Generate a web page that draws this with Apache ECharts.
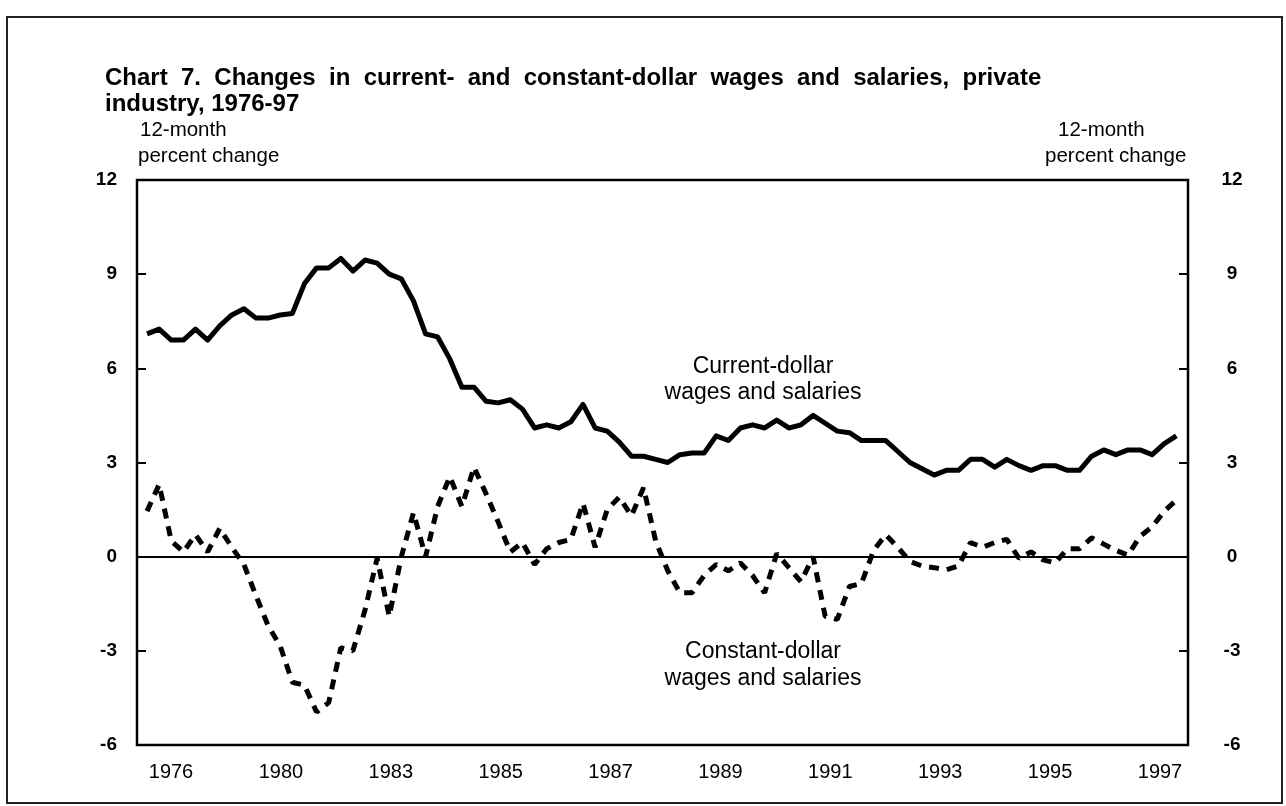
<!DOCTYPE html>
<html>
<head>
<meta charset="utf-8">
<script src="https://cdn.jsdelivr.net/npm/echarts@6/dist/echarts.min.js"></script>
<style>
  html, body { margin: 0; padding: 0; background: #fff; }
  #chart { width: 1286px; height: 806px; }
</style>
</head>
<body>
<div id="chart"></div>
<script>
// quarterly 12-month percent changes
const currentDollar = [
  7.1, 7.25, 6.9, 6.9, 7.25, 6.9, 7.35, 7.7, 7.9, 7.6, 7.6, 7.7, 7.75, 8.7, 9.2, 9.2,
  9.5, 9.1, 9.45, 9.35, 9.0, 8.85, 8.15, 7.1, 7.0, 6.3, 5.4, 5.4, 4.95, 4.9, 5.0, 4.7,
  4.1, 4.2, 4.1, 4.3, 4.85, 4.1, 4.0, 3.65, 3.2, 3.2, 3.1, 3.0, 3.25, 3.3, 3.3, 3.85,
  3.7, 4.1, 4.2, 4.1, 4.35, 4.1, 4.2, 4.5, 4.25, 4.0, 3.95, 3.7, 3.7, 3.7, 3.35, 3.0,
  2.8, 2.6, 2.75, 2.75, 3.1, 3.1, 2.85, 3.1, 2.9, 2.75, 2.9, 2.9, 2.75, 2.75, 3.2, 3.4,
  3.25, 3.4, 3.4, 3.25, 3.6, 3.85
];
const constantDollar = [
  1.45, 2.3, 0.5, 0.15, 0.7, 0.15, 0.9, 0.3, -0.25, -1.25, -2.2, -2.85, -4.0, -4.1, -4.95, -4.65,
  -2.9, -3.0, -1.7, -0.05, -1.9, 0.0, 1.4, 0.0, 1.6, 2.55, 1.6, 2.85, 2.0, 1.1, 0.15, 0.45,
  -0.25, 0.25, 0.45, 0.55, 1.7, 0.3, 1.5, 1.9, 1.3, 2.2, 0.5, -0.45, -1.15, -1.15, -0.6, -0.25,
  -0.45, -0.2, -0.6, -1.15, 0.1, -0.35, -0.8, 0.0, -1.9, -2.0, -0.95, -0.85, 0.2, 0.7, 0.3, -0.15,
  -0.3, -0.35, -0.42, -0.3, 0.45, 0.3, 0.45, 0.55, -0.05, 0.15, -0.1, -0.2, 0.25, 0.25, 0.6, 0.4,
  0.2, 0.05, 0.65, 0.95, 1.45, 1.8
];
const yearLabels = ['1976', '1980', '1983', '1985', '1987', '1989', '1991', '1993', '1995', '1997'];

const chart = echarts.init(document.getElementById('chart'), null, { renderer: 'canvas' });

const FONT = 'Liberation Sans, Arial, sans-serif';

// first title line runs a bit wider in the original
const titleWords = ['Chart', '7.', 'Changes', 'in', 'current-', 'and', 'constant-dollar', 'wages', 'and', 'salaries,', 'private'];
const titleText = titleWords.join('  ') + '\nindustry, 1976-97';

var option = {
  animation: false,
  backgroundColor: '#fff',
  textStyle: { fontFamily: FONT, color: '#000' },
  grid: [
    // plot area, its border is the frame
    { left: 137, right: 98, top: 180, bottom: 61, show: true, borderColor: '#000', borderWidth: 2.5 },
    // only carries the year labels
    { left: 171, right: 126, top: 180, bottom: 61, show: false }
  ],
  xAxis: [
    {
      type: 'value',
      gridIndex: 0,
      min: -0.83,
      max: 85.96,
      axisLine: { show: true, onZero: true, lineStyle: { color: '#000', width: 2 } },
      axisTick: { show: false },
      axisLabel: { show: false },
      splitLine: { show: false }
    },
    {
      type: 'category',
      gridIndex: 1,
      data: yearLabels,
      boundaryGap: false,
      axisLine: { show: false },
      axisTick: { show: false },
      axisLabel: { fontSize: 20, color: '#000', margin: 17, fontFamily: FONT },
      splitLine: { show: false }
    }
  ],
  yAxis: [
    {
      type: 'value',
      gridIndex: 0,
      position: 'left',
      min: -6,
      max: 12,
      interval: 3,
      axisLine: { show: false, onZero: false },
      axisTick: { show: true, inside: true, length: 9, lineStyle: { color: '#000', width: 2 } },
      axisLabel: { fontSize: 19, fontWeight: 'bold', color: '#000', margin: 20, fontFamily: FONT },
      splitLine: { show: false }
    },
    {
      type: 'value',
      gridIndex: 0,
      position: 'right',
      min: -6,
      max: 12,
      interval: 3,
      axisLine: { show: false, onZero: false },
      axisTick: { show: true, inside: true, length: 9, lineStyle: { color: '#000', width: 2 } },
      axisLabel: { fontSize: 19, fontWeight: 'bold', color: '#000', margin: 44, align: 'center', fontFamily: FONT },
      splitLine: { show: false }
    },
    { type: 'value', gridIndex: 1, show: false }
  ],
  series: [
    {
      name: 'Current-dollar wages and salaries',
      type: 'line',
      xAxisIndex: 0,
      yAxisIndex: 0,
      symbol: 'none',
      lineStyle: { color: '#000', width: 5, join: 'round' },
      data: currentDollar.map((v, i) => [i, v])
    },
    {
      name: 'Constant-dollar wages and salaries',
      type: 'line',
      xAxisIndex: 0,
      yAxisIndex: 0,
      symbol: 'none',
      lineStyle: { color: '#000', width: 5, type: [10, 8], cap: 'butt' },
      data: constantDollar.map((v, i) => [i, v])
    }
  ],
  graphic: [
    // outer frame
    { type: 'rect', shape: { x: 7, y: 17, width: 1275, height: 786 }, style: { fill: 'none', stroke: '#222', lineWidth: 2 }, silent: true },
    {
      type: 'text', left: 105, top: 65,
      style: { text: titleText, font: 'bold 24px ' + FONT, lineHeight: 26, fill: '#000' }
    },
    { type: 'text', left: 140, top: 120, style: { text: '12-month', font: '20.5px ' + FONT, fill: '#000' } },
    { type: 'text', left: 138, top: 146, style: { text: 'percent change', font: '20.5px ' + FONT, fill: '#000' } },
    { type: 'text', left: 1058, top: 120, style: { text: '12-month', font: '20.5px ' + FONT, fill: '#000' } },
    { type: 'text', left: 1045, top: 146, style: { text: 'percent change', font: '20.5px ' + FONT, fill: '#000' } },
    {
      type: 'text', x: 763, y: 354,
      style: { text: 'Current-dollar\nwages and salaries', font: '23px ' + FONT, lineHeight: 26, align: 'center', fill: '#000' }
    },
    {
      type: 'text', x: 763, y: 638,
      style: { text: 'Constant-dollar\nwages and salaries', font: '23px ' + FONT, lineHeight: 27, align: 'center', fill: '#000' }
    }
  ]
};

chart.setOption(option);
</script>
</body>
</html>
